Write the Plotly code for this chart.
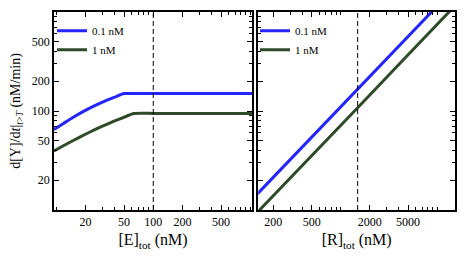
import plotly.graph_objects as go

# ---- data ----
E_tot = [9.5, 12, 15, 20, 25, 30, 40, 50, 63, 100, 200, 500, 1100]
rate_E_01nM = [65, 75.3, 86.5, 101.4, 113.3, 123, 138, 150, 150, 150, 150, 150, 150]
rate_E_1nM = [39.4, 44.8, 50.4, 58.2, 64.7, 70.3, 79.3, 86.5, 94.3, 94.5, 94.5, 94.5, 94.5]

R_tot = [130, 500, 1500, 5000, 16000]
rate_R_01nM = [13.8, 54, 165, 560, 1850]
rate_R_1nM = [9.0, 35, 108, 370, 1210]

E_mark = [100]
R_mark = [1500]

series_names = ["0.1 nM", "1 nM"]
y_ticks = [20, 50, 100, 200, 500]
xE_ticks = [20, 50, 100, 200, 500]
xR_ticks = [200, 500, 2000, 5000]

BLUE = "#2424ff"
GREEN = "#2e4a28"
FONT = "'Liberation Serif', 'Times New Roman', Times, 'DejaVu Serif', serif"

fig = go.Figure()
for ys, col, nm in [(rate_E_01nM, BLUE, series_names[0]), (rate_E_1nM, GREEN, series_names[1])]:
    fig.add_trace(go.Scatter(x=E_tot, y=ys, mode="lines", name=nm,
                             line=dict(color=col, width=3, shape="spline", smoothing=0.5),
                             xaxis="x", yaxis="y", legend="legend"))
for ys, col, nm in [(rate_R_01nM, BLUE, series_names[0]), (rate_R_1nM, GREEN, series_names[1])]:
    fig.add_trace(go.Scatter(x=R_tot, y=ys, mode="lines", name=nm,
                             line=dict(color=col, width=3),
                             xaxis="x2", yaxis="y2", legend="legend2"))

for xv in E_mark:
    fig.add_shape(type="line", x0=xv, x1=xv, y0=0, y1=1, xref="x", yref="y domain",
                  line=dict(color="black", width=1, dash="5px,3px"))
for xv in R_mark:
    fig.add_shape(type="line", x0=xv, x1=xv, y0=0, y1=1, xref="x2", yref="y2 domain",
                  line=dict(color="black", width=1, dash="5px,3px"))

common = dict(type="log", showgrid=False, zeroline=False, showline=True, automargin=False,
              linecolor="black", linewidth=1.5, mirror="ticks",
              ticks="inside", ticklen=5, tickwidth=1, tickcolor="black",
              tickfont=dict(family=FONT, size=12, color="black"),
              minor=dict(ticks="inside", ticklen=3, tickwidth=1, tickcolor="black", dtick="D1", showgrid=False))

# page body adds an 8px offset; figure sized to fit the 475x257 window
W, H = 467, 249
fig.update_layout(
    width=W, height=H,
    margin=dict(l=0, r=0, t=3.7, b=47, autoexpand=False),
    paper_bgcolor="white", plot_bgcolor="white",
    font=dict(family=FONT, color="black"),
    xaxis=dict(common, domain=[46/W, 244/W], range=[0.9777, 3.017], anchor="y",
               tickvals=xE_ticks, ticktext=[str(v) for v in xE_ticks],
               title=dict(text="[E]<sub>tot</sub> (nM)", font=dict(family=FONT, size=16), standoff=6)),
    xaxis2=dict(common, domain=[250.3/W, 447/W], range=[2.146, 4.185], anchor="y2",
                tickvals=xR_ticks, ticktext=[str(v) for v in xR_ticks],
                title=dict(text="[R]<sub>tot</sub> (nM)", font=dict(family=FONT, size=16), standoff=6)),
    yaxis=dict(common, domain=[0, 1], range=[1, 3], anchor="x",
               tickvals=y_ticks, ticktext=[str(v) for v in y_ticks],
               title=dict(text="d[Y]/d<i>t</i>|<sub><i>t</i>><i>T</i></sub> (nM/min)", font=dict(family=FONT, size=14), standoff=9)),
    yaxis2=dict(common, domain=[0, 1], range=[1, 3], anchor="x2", showticklabels=False,
                tickvals=y_ticks),
    legend=dict(x=44/W, y=0.978, xanchor="left", yanchor="top", bgcolor="rgba(0,0,0,0)",
                font=dict(family=FONT, size=11), tracegroupgap=0, itemwidth=30),
    legend2=dict(x=247/W, y=0.978, xanchor="left", yanchor="top", bgcolor="rgba(0,0,0,0)",
                 font=dict(family=FONT, size=11), tracegroupgap=0, itemwidth=30),
)

fig.write_html("out.html")
